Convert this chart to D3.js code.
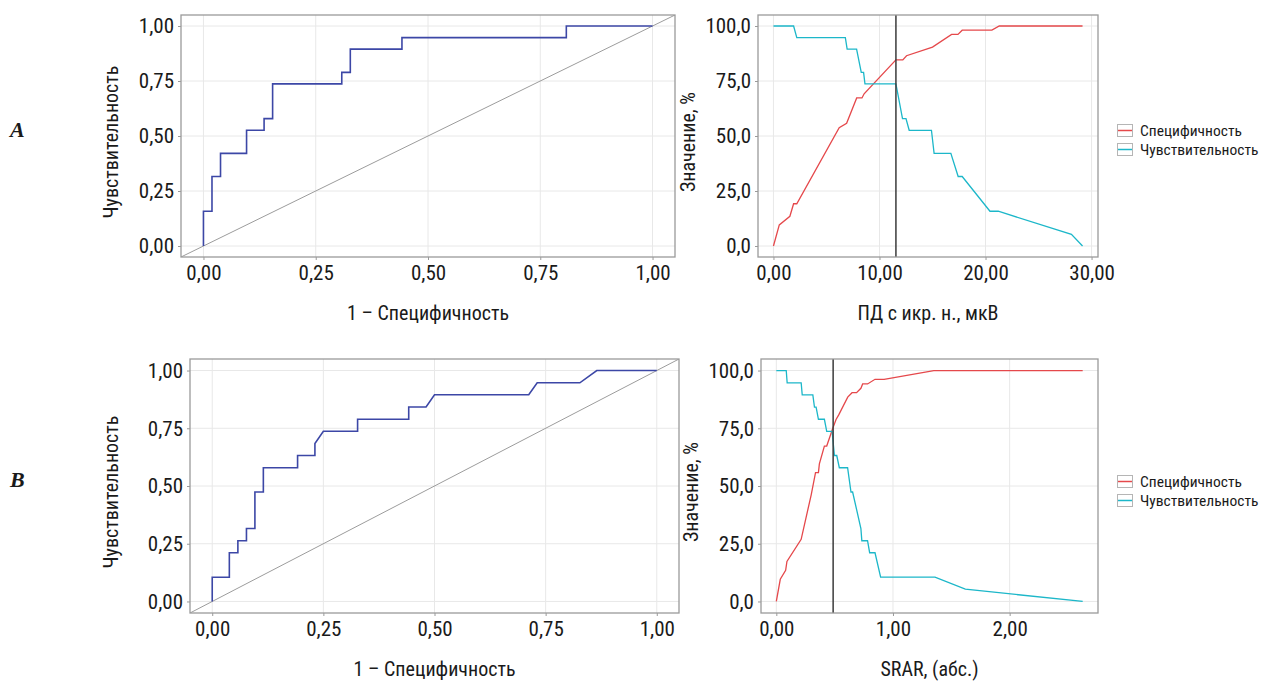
<!DOCTYPE html>
<html>
<head>
<meta charset="utf-8">
<script src="https://cdn.jsdelivr.net/npm/d3@7"></script>
<style>
  body { margin: 0; background: #fff; }
  text { font-family: "Liberation Sans Narrow", "Roboto Condensed", "Arial Narrow", sans-serif; fill: #1a1a1a; }
</style>
</head>
<body>
<svg id="chart" width="1273" height="681"></svg>
<script>
// ROC A (ПД с икр. н.)
const rocA_fpr = [0, 0, 0.019, 0.019, 0.038, 0.038, 0.096, 0.096, 0.135, 0.135, 0.154, 0.154, 0.308, 0.308, 0.327, 0.327, 0.442, 0.442, 0.808, 0.808, 1];
const rocA_tpr = [0, 0.158, 0.158, 0.316, 0.316, 0.421, 0.421, 0.526, 0.526, 0.579, 0.579, 0.737, 0.737, 0.789, 0.789, 0.895, 0.895, 0.947, 0.947, 1, 1];

// ROC B (SRAR)
const rocB_fpr = [0, 0, 0.0385, 0.0385, 0.0577, 0.0577, 0.077, 0.077, 0.096, 0.096, 0.115, 0.115, 0.192, 0.192, 0.231, 0.231, 0.25, 0.327, 0.327, 0.442, 0.442, 0.481, 0.5, 0.712, 0.731, 0.827, 0.865, 1];
const rocB_tpr = [0, 0.105, 0.105, 0.211, 0.211, 0.263, 0.263, 0.316, 0.316, 0.474, 0.474, 0.579, 0.579, 0.632, 0.632, 0.684, 0.737, 0.737, 0.789, 0.789, 0.842, 0.842, 0.895, 0.895, 0.947, 0.947, 1, 1];

// specificity / sensitivity vs cut-off, panel A
const specA_x = [0, 0.55, 1.55, 1.9, 2.2, 6.2, 6.9, 7.85, 8.35, 8.55, 11.55, 12.2, 12.55, 15.0, 16.8, 17.4, 17.8, 20.6, 21.3, 29.15];
const specA_y = [0, 9.6, 13.5, 19.2, 19.2, 53.8, 55.8, 67.3, 67.3, 69.2, 84.6, 84.6, 86.5, 90.4, 96.2, 96.2, 98.1, 98.1, 100, 100];
const sensA_x = [0, 1.9, 2.2, 6.78, 6.95, 7.84, 8.28, 8.5, 8.63, 11.55, 12.17, 12.5, 12.8, 14.9, 15.15, 16.73, 17.42, 17.8, 20.42, 21.2, 28.1, 29.15];
const sensA_y = [100, 100, 94.7, 94.7, 89.5, 89.5, 78.9, 78.9, 73.7, 73.7, 57.9, 57.9, 52.6, 52.6, 42.1, 42.1, 31.6, 31.6, 15.8, 15.8, 5.3, 0];
const cutA = 11.55;

// specificity / sensitivity vs cut-off, panel B
const specB_x = [0, 0.034, 0.08, 0.091, 0.213, 0.299, 0.336, 0.361, 0.369, 0.412, 0.432, 0.484, 0.512, 0.535, 0.612, 0.649, 0.688, 0.725, 0.74, 0.782, 0.846, 0.924, 1.35, 2.626];
const specB_y = [0, 9.6, 13.5, 17.3, 26.9, 46.2, 55.8, 55.8, 59.6, 67.3, 67.3, 75.0, 78.8, 80.8, 88.5, 90.4, 90.4, 92.3, 94.2, 94.2, 96.2, 96.2, 100, 100];
const sensB_x = [0, 0.085, 0.093, 0.213, 0.222, 0.313, 0.327, 0.341, 0.361, 0.412, 0.432, 0.478, 0.498, 0.518, 0.54, 0.611, 0.64, 0.654, 0.725, 0.733, 0.782, 0.80, 0.846, 0.894, 1.36, 1.62, 2.626];
const sensB_y = [100, 100, 94.7, 94.7, 89.5, 89.5, 84.2, 84.2, 78.9, 78.9, 73.7, 73.7, 63.2, 63.2, 57.9, 57.9, 47.4, 47.4, 31.6, 26.3, 26.3, 21.1, 21.1, 10.5, 10.5, 5.3, 0];
const cutB = 0.487;

const rocTicks = [0, 0.25, 0.5, 0.75, 1];
const pctTicks = [0, 25, 50, 75, 100];
const legendLabels = ["Специфичность", "Чувствительность"];
const rowLabels = ["A", "B"];

const red = "#e5484b", cyan = "#1cb7c9", navy = "#3c47a6";
const svg = d3.select("#chart");
const comma = f => v => d3.format(f)(v).replace(".", ",");
let clipId = 0;

function panel(box, xDom, yDom, xTicks, yTicks, xFmt, yFmt, xTitle, yTitle, titleDx) {
  const x = d3.scaleLinear().domain(xDom).range([box.x0, box.x1]);
  const y = d3.scaleLinear().domain(yDom).range([box.y1, box.y0]);
  const g = svg.append("g");

  const grid = g.append("g").attr("stroke", "#e8e8e8").attr("stroke-width", 1);
  grid.selectAll(".gx").data(xTicks).join("line")
    .attr("x1", d => x(d)).attr("x2", d => x(d)).attr("y1", box.y0).attr("y2", box.y1);
  grid.selectAll(".gy").data(yTicks).join("line")
    .attr("y1", d => y(d)).attr("y2", d => y(d)).attr("x1", box.x0).attr("x2", box.x1);

  const ax = g.append("g").attr("transform", `translate(0,${box.y1})`)
    .call(d3.axisBottom(x).tickValues(xTicks).tickFormat(xFmt).tickSize(3).tickPadding(5));
  const ay = g.append("g").attr("transform", `translate(${box.x0},0)`)
    .call(d3.axisLeft(y).tickValues(yTicks).tickFormat(yFmt).tickSize(3).tickPadding(4));
  [ax, ay].forEach(a => {
    a.select(".domain").remove();
    a.selectAll("line").attr("stroke", "#999");
    a.selectAll("text").style("font-size", "21px").attr("fill", "#1a1a1a");
  });

  g.append("text").attr("x", (box.x0 + box.x1) / 2).attr("y", box.y1 + 63)
    .attr("text-anchor", "middle").style("font-size", "20px").text(xTitle);
  g.append("text").attr("transform", `translate(${box.x0 - titleDx},${(box.y0 + box.y1) / 2 + 6}) rotate(-90)`)
    .attr("text-anchor", "middle").style("font-size", "20px").text(yTitle);

  const id = "clip" + (clipId++);
  svg.append("clipPath").attr("id", id).append("rect")
    .attr("x", box.x0).attr("y", box.y0).attr("width", box.x1 - box.x0).attr("height", box.y1 - box.y0);
  const plot = g.append("g").attr("clip-path", `url(#${id})`);

  g.append("rect").attr("x", box.x0).attr("y", box.y0)
    .attr("width", box.x1 - box.x0).attr("height", box.y1 - box.y0)
    .attr("fill", "none").attr("stroke", "#9a9a9a").attr("stroke-width", 1.3);
  return { x, y, plot };
}

function rocPanel(box, fpr, tpr, titleDx) {
  const p = panel(box, [-0.05, 1.05], [-0.05, 1.05], rocTicks, rocTicks, comma(".2f"), comma(".2f"),
    "1 – Специфичность", "Чувствительность", titleDx);
  p.plot.append("line").attr("x1", p.x(-0.05)).attr("y1", p.y(-0.05)).attr("x2", p.x(1.05)).attr("y2", p.y(1.05))
    .attr("stroke", "#9c9c9c").attr("stroke-width", 1);
  const pts = fpr.map((v, i) => [v, tpr[i]]);
  p.plot.append("path").datum(pts)
    .attr("d", d3.line().x(d => p.x(d[0])).y(d => p.y(d[1])))
    .attr("fill", "none").attr("stroke", navy).attr("stroke-width", 1.6);
}

function cutPanel(box, sx, sy, tx, ty, cut, xTicks, xTitle, legendY) {
  const xmax = d3.max(sx.concat(tx));
  const pad = xmax * 0.05;
  const p = panel(box, [-pad, xmax + pad], [-5, 105], xTicks, pctTicks, comma(".2f"), comma(".1f"),
    xTitle, "Значение, %", 63);
  const line = d3.line().x(d => p.x(d[0])).y(d => p.y(d[1]));
  p.plot.append("path").datum(sx.map((v, i) => [v, sy[i]])).attr("d", line)
    .attr("fill", "none").attr("stroke", red).attr("stroke-width", 1.3);
  p.plot.append("path").datum(tx.map((v, i) => [v, ty[i]])).attr("d", line)
    .attr("fill", "none").attr("stroke", cyan).attr("stroke-width", 1.3);
  p.plot.append("line").attr("x1", p.x(cut)).attr("x2", p.x(cut)).attr("y1", box.y0).attr("y2", box.y1)
    .attr("stroke", "#3b3b3b").attr("stroke-width", 1.5);

  // legend rows spaced so the two labels do not collide
  const lg = svg.append("g").attr("transform", `translate(1117,${legendY})`);
  [red, cyan].forEach((c, i) => {
    const r = lg.append("g").attr("transform", `translate(0,${i * 19})`);
    r.append("rect").attr("x", 0.5).attr("y", 0.5).attr("width", 15).attr("height", 12)
      .attr("fill", "#fff").attr("stroke", "#b5b5b5").attr("stroke-width", 1);
    r.append("line").attr("x1", 1).attr("x2", 15).attr("y1", 6.5).attr("y2", 6.5)
      .attr("stroke", c).attr("stroke-width", 1.5);
    r.append("text").attr("x", 23).attr("y", 12).style("font-size", "15.5px").text(legendLabels[i]);
  });
}

rocPanel({ x0: 181, x1: 675, y0: 15, y1: 257 }, rocA_fpr, rocA_tpr, 63);
cutPanel({ x0: 758, x1: 1098, y0: 15, y1: 257 }, specA_x, specA_y, sensA_x, sensA_y, cutA,
  [0, 10, 20, 30], "ПД с икр. н., мкВ", 124);
rocPanel({ x0: 190, x1: 679, y0: 359, y1: 613 }, rocB_fpr, rocB_tpr, 72);
cutPanel({ x0: 761, x1: 1098, y0: 359, y1: 613 }, specB_x, specB_y, sensB_x, sensB_y, cutB,
  [0, 1, 2], "SRAR, (абс.)", 475);

svg.selectAll(".rowlab").data(rowLabels).join("text")
  .attr("x", 10).attr("y", (d, i) => i === 0 ? 137 : 487)
  .style("font-family", "'Liberation Serif', 'DejaVu Serif', serif")
  .style("font-style", "italic").style("font-weight", "bold").style("font-size", "22px")
  .text(d => d);
</script>
</body>
</html>
